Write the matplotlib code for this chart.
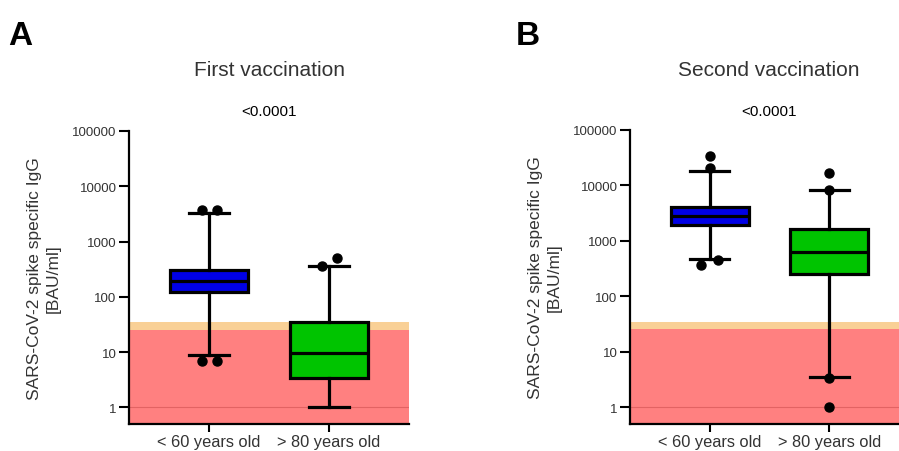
import matplotlib
matplotlib.use("Agg")
import matplotlib.pyplot as plt
import numpy as np

plt.rcParams['font.family'] = ['Liberation Sans', 'DejaVu Sans']

# ---- data ----
groups = ["< 60 years old", "> 80 years old"]
panel_letters = ["A", "B"]
panel_titles = ["First vaccination", "Second vaccination"]
p_values = ["<0.0001", "<0.0001"]
ytick_vals = [1, 10, 100, 1000, 10000, 100000]
ytick_labels = ["1", "10", "100", "1000", "10000", "100000"]

# box stats per panel: [young, old]
first_q1 = [120, 3.45]
first_med = [192, 9.8]
first_q3 = [303, 35]
first_wlo = [8.75, 1.0]
first_whi = [3230, 354]
first_out_young = [3770, 3770, 6.9, 6.9]
first_out_young_dx = [-0.06, 0.065, -0.06, 0.065]
first_out_old = [360, 494]
first_out_old_dx = [-0.06, 0.07]

second_q1 = [1900, 255]
second_med = [2800, 625]
second_q3 = [4020, 1610]
second_wlo = [480, 3.58]
second_whi = [18200, 8150]
second_out_young = [34000, 21000, 374, 448]
second_out_young_dx = [0.0, 0.0, -0.07, 0.065]
second_out_old = [17000, 8400, 3.4, 1.0]
second_out_old_dx = [0.0, 0.0, 0.0, 0.0]

neg_cutoff = 25.6
border_cutoff = 35.2

box_colors = ["#0000e6", "#00c400"]
red_c = "#ff8080"
band_c = "#f9d096"
text_c = "#333333"

fig = plt.figure(figsize=(8.99, 4.52), dpi=100)

W, H = 899, 452
def axes_rect(left, right, top, bottom):
    return [left / W, 1 - bottom / H, (right - left) / W, (bottom - top) / H]

panels = [
    dict(rect=axes_rect(129, 409, 132, 425), cx=269, letter_x=8,
         q1=first_q1, med=first_med, q3=first_q3, wlo=first_wlo, whi=first_whi,
         outs=[(first_out_young, first_out_young_dx), (first_out_old, first_out_old_dx)]),
    dict(rect=axes_rect(630, 909, 131, 425), cx=769, letter_x=516,
         q1=second_q1, med=second_med, q3=second_q3, wlo=second_wlo, whi=second_whi,
         outs=[(second_out_young, second_out_young_dx), (second_out_old, second_out_old_dx)]),
]

positions = [0, 1]
for i, pnl in enumerate(panels):
    ax = fig.add_axes(pnl["rect"])
    ax.set_yscale("log")
    ax.set_ylim(0.5, 100000)
    ax.set_xlim(-0.667, 1.667)

    # shaded zones
    ax.axhspan(0.5, neg_cutoff, color=red_c, lw=0, zorder=0)
    ax.axhspan(neg_cutoff, border_cutoff, color=band_c, lw=0, zorder=0)
    ax.axhline(1, color="#d05050", lw=0.8, alpha=0.6, zorder=0.5)

    stats = []
    for j in range(2):
        stats.append(dict(med=pnl["med"][j], q1=pnl["q1"][j], q3=pnl["q3"][j],
                          whislo=pnl["wlo"][j], whishi=pnl["whi"][j], fliers=[]))
    bp = ax.bxp(stats, positions=positions, widths=0.65, patch_artist=True,
                showfliers=False, capwidths=0.33,
                boxprops=dict(lw=2.3, edgecolor="black"),
                medianprops=dict(color="black", lw=2.3),
                whiskerprops=dict(color="black", lw=2.3),
                capprops=dict(color="black", lw=2.3))
    for patch, c in zip(bp["boxes"], box_colors):
        patch.set_facecolor(c)
    for j, (vals, dx) in enumerate(pnl["outs"]):
        ax.plot(np.array(dx) + positions[j], vals, "o", color="black",
                ms=6.5, zorder=5, clip_on=False)

    ax.set_yticks(ytick_vals)
    ax.set_yticklabels(ytick_labels)
    ax.yaxis.set_minor_locator(matplotlib.ticker.NullLocator())
    ax.set_xticks(positions)
    ax.set_xticklabels(groups, fontsize=11.8, color=text_c)
    ax.tick_params(axis="y", labelsize=9.5, labelcolor=text_c, length=7, width=1.5, pad=2)
    ax.tick_params(axis="x", length=6, width=1.5, pad=1.5)
    for s in ["top", "right"]:
        ax.spines[s].set_visible(False)
    for s in ["left", "bottom"]:
        ax.spines[s].set_linewidth(1.6)
    ax.set_ylabel("SARS-CoV-2 spike specific IgG\n[BAU/ml]", fontsize=12.5,
                  color=text_c, linespacing=1.3, labelpad=8)

    fig.text(pnl["cx"] / W, 1 - 70 / H, panel_titles[i], fontsize=15,
             color=text_c, ha="center", va="center")
    fig.text(pnl["cx"] / W, 1 - 112 / H, p_values[i], fontsize=11,
             color="black", ha="center", va="center")
    fig.text(pnl["letter_x"] / W, 1 - 45 / H, panel_letters[i], fontsize=24,
             fontweight="bold", va="baseline")

fig.savefig("out.png", dpi=100)
